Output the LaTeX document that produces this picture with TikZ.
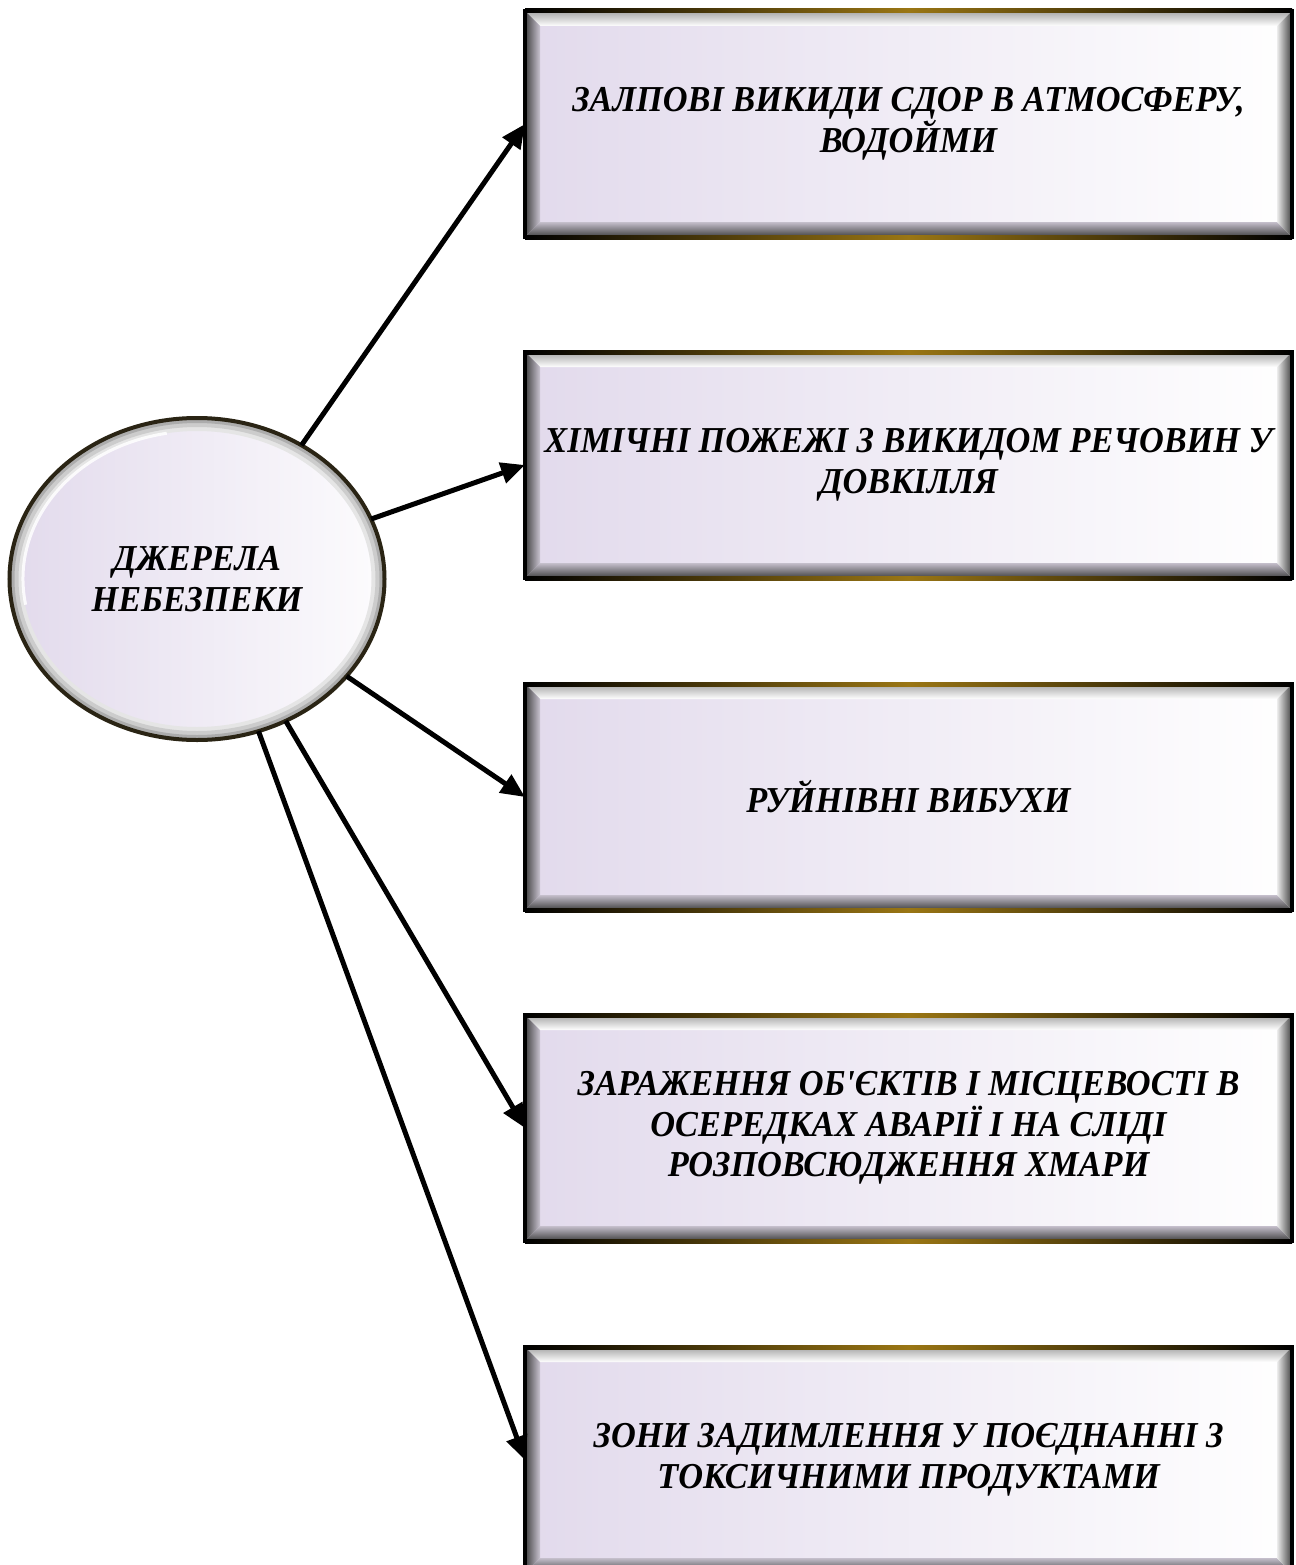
\documentclass[tikz,border=0pt]{standalone}
\usepackage{fontspec}
\setmainfont{Liberation Serif}
\newfontfamily\condfont[FakeStretch=0.94]{Liberation Serif}
\usetikzlibrary{arrows.meta,shapes.geometric,calc}
\definecolor{lav}{HTML}{E2DAEC}
\definecolor{goldc}{HTML}{9A7614}
\definecolor{rimc}{HTML}{2A2414}
\tikzset{
  x=1pt, y=-1pt,
  labelfont/.style={font=\condfont\bfseries\itshape\fontsize{36.5}{40.5}\selectfont},
  boxnode/.style={rectangle, draw=black, line width=4pt, anchor=north west,
    minimum width=767pt, minimum height=226pt, inner sep=0pt, outer sep=0pt,
    left color=lav, right color=white, align=center, labelfont,
    path picture={
      \coordinate (NW) at (path picture bounding box.north west);
      \coordinate (NE) at (path picture bounding box.north east);
      \coordinate (SW) at (path picture bounding box.south west);
      \coordinate (SE) at (path picture bounding box.south east);
      \shade[top color=gray!70, bottom color=white]
        (NW) -- (NE) -- ([shift={(-15pt,-15pt)}]NE) -- ([shift={(15pt,-15pt)}]NW) -- cycle;
      \shade[top color=lav!70!gray, bottom color=black!75]
        (SW) -- (SE) -- ([shift={(-15pt,15pt)}]SE) -- ([shift={(15pt,15pt)}]SW) -- cycle;
      \shade[left color=black!75, right color=lav!75!gray]
        (NW) -- ([shift={(15pt,-15pt)}]NW) -- ([shift={(15pt,15pt)}]SW) -- (SW) -- cycle;
      \shade[left color=white!85!gray, right color=black!75]
        (NE) -- ([shift={(-15pt,-15pt)}]NE) -- ([shift={(-15pt,15pt)}]SE) -- (SE) -- cycle;
    }},
  srcnode/.style={ellipse, draw=rimc, line width=4pt, minimum width=375pt,
    minimum height=322pt, inner sep=0pt, outer sep=0pt,
    left color=lav, right color=white!92!lav, align=center, labelfont,
    path picture={
      \coordinate (C) at (path picture bounding box.center);
      \draw[gray!20, line width=26pt] (C) ellipse [x radius=187.5pt, y radius=161pt];
      \draw[gray!40, line width=18pt] (C) ellipse [x radius=187.5pt, y radius=161pt];
      \draw[gray!65, line width=10pt] (C) ellipse [x radius=187.5pt, y radius=161pt];
      \draw[white, line width=3pt, opacity=.85] (C) ++(100:174pt and 148pt)
        arc [start angle=100, end angle=190, x radius=174pt, y radius=148pt];
    }},
  conn/.style={line width=5pt, -{Triangle[length=24pt,width=21pt]}},
  goldedge/.style={left color=black, right color=black, middle color=goldc}
}
\newcommand{\goldlines}[1]{%
  \shade[goldedge] ([yshift=2pt]#1.north west) rectangle ([yshift=-2pt]#1.north east);
  \shade[goldedge] ([yshift=2pt]#1.south west) rectangle ([yshift=-2pt]#1.south east);}
\begin{document}
\begin{tikzpicture}
\useasboundingbox (0,0) rectangle (1295,1565);
\clip (0,0) rectangle (1295,1565);
\fill[white] (0,0) rectangle (1295,1565);

\node[boxnode] (b1) at (525,11) {ЗАЛПОВІ ВИКИДИ СДОР В АТМОСФЕРУ,\\ВОДОЙМИ};
\node[boxnode] (b2) at (525,352) {ХІМІЧНІ ПОЖЕЖІ З ВИКИДОМ РЕЧОВИН У\\ДОВКІЛЛЯ};
\node[boxnode] (b3) at (525,684) {РУЙНІВНІ ВИБУХИ};
\node[boxnode] (b4) at (525,1015) {ЗАРАЖЕННЯ ОБ'ЄКТІВ І МІСЦЕВОСТІ В\\ОСЕРЕДКАХ АВАРІЇ І НА СЛІДІ\\РОЗПОВСЮДЖЕННЯ ХМАРИ};
\node[boxnode] (b5) at (525,1347) {ЗОНИ ЗАДИМЛЕННЯ У ПОЄДНАННІ З\\ТОКСИЧНИМИ ПРОДУКТАМИ};
\goldlines{b1}\goldlines{b2}\goldlines{b3}\goldlines{b4}\goldlines{b5}

\node[srcnode] (src) at (197,579) {ДЖЕРЕЛА\\НЕБЕЗПЕКИ};

\draw[conn] (src.52) -- (b1.west);
\draw[conn] (src.19) -- (b2.west);
\draw[conn] (src.-33) -- (b3.west);
\draw[conn] (src.-58) -- (b4.west);
\draw[conn] (src.-68) -- (b5.west);
\end{tikzpicture}
\end{document}
